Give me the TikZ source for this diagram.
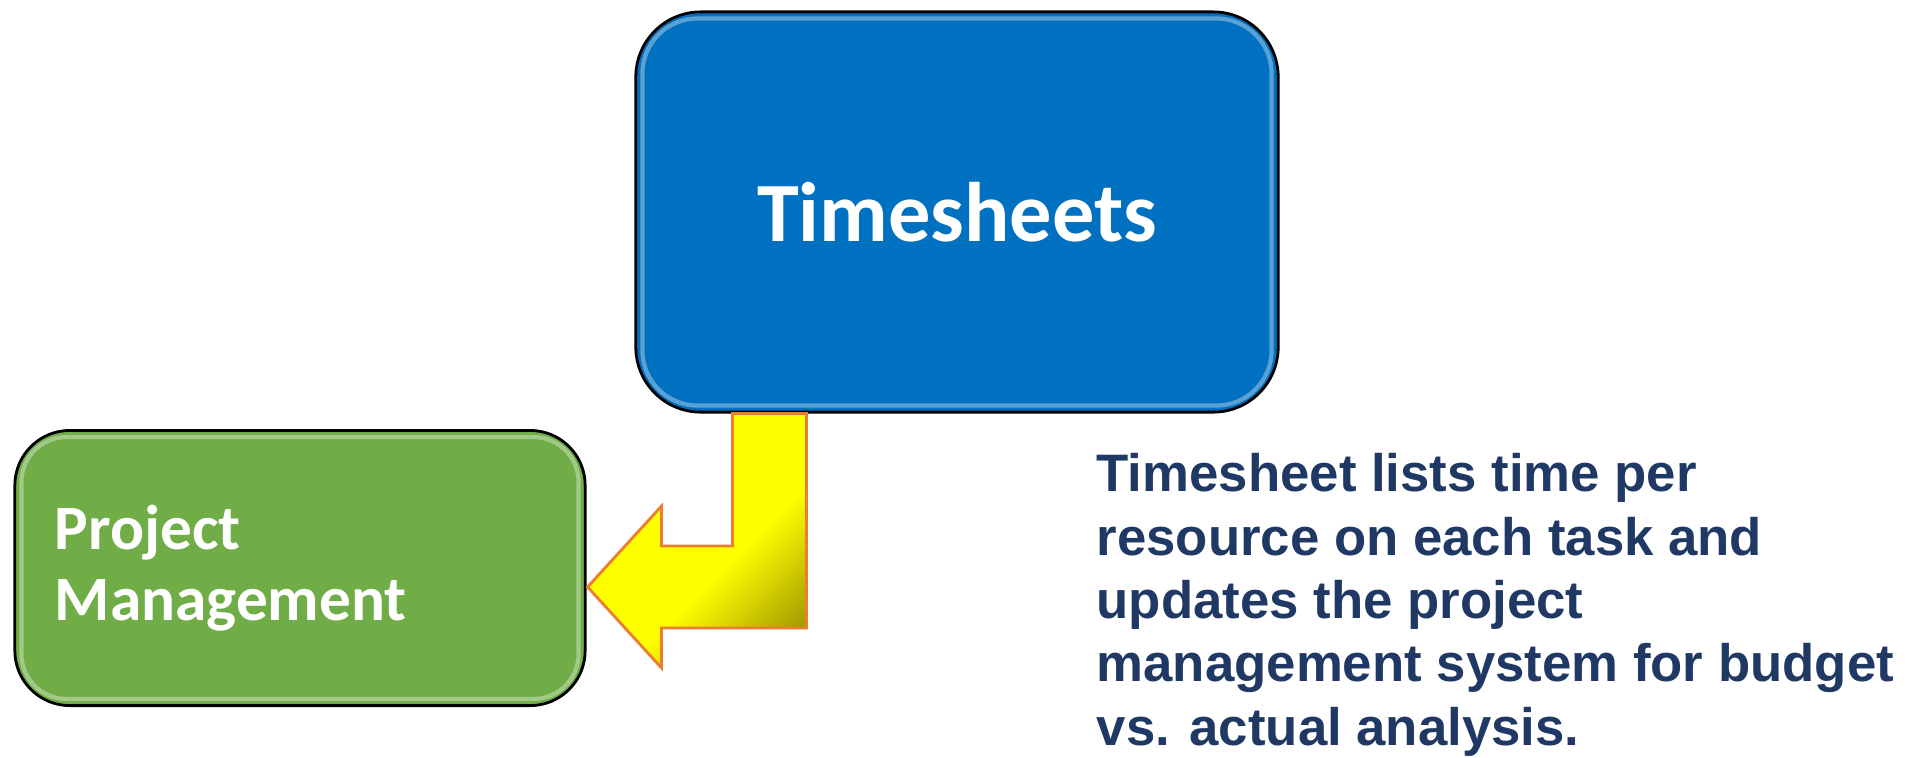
\documentclass[tikz,border=0pt]{standalone}
\usepackage{fontspec}
\newfontfamily\boxfont{Carlito}
\newfontfamily\notefont{Liberation Sans}
\usetikzlibrary{calc}
\definecolor{tsblue}{HTML}{0070C0}
\definecolor{pmgreen}{HTML}{70AD47}
\definecolor{arrowline}{HTML}{ED7D31}
\definecolor{arrowdark}{HTML}{8C8200}
\definecolor{notenavy}{HTML}{1F3864}
\pgfdeclareverticalshading{arrowshade}{100bp}{color(0bp)=(arrowdark); color(16bp)=(arrowdark); color(42bp)=(yellow); color(100bp)=(yellow)}
\begin{document}
\begin{tikzpicture}[x=0.01cm, y=-0.01cm,
    tsbox/.style = {draw, line width=0.8pt, fill=tsblue, rounded corners=0.65cm, inner sep=0pt, text=white, font=\boxfont\bfseries\fontsize{24}{28}\selectfont},
    pmbox/.style = {draw, line width=0.8pt, fill=pmgreen, rounded corners=0.55cm, inner sep=0pt, inner xsep=0.4cm, text=white, align=left, font=\boxfont\bfseries\fontsize{18}{20}\selectfont},
    gloss/.style = {draw=white, opacity=0.35, line width=1.2pt},
    bentarrow/.style = {draw=arrowline, line width=0.8pt, shading=arrowshade, shading angle=45},
    note/.style = {inner sep=0pt, align=left, text=notenavy, font=\notefont\bfseries\fontsize{15}{18}\selectfont}]
  \useasboundingbox (0,0) rectangle (1918,757);
  \node[tsbox, minimum width=6.42cm, minimum height=4cm] (ts) at (957,212) {Timesheets};
  \node[pmbox, minimum width=5.7cm, minimum height=2.75cm, text width=4.9cm] (pm) at (300,568) {Project\\Management};
  \draw[gloss, rounded corners=0.55cm] ($(ts.south west)+(8,-8)$) rectangle ($(ts.north east)+(-8,8)$);
  \draw[gloss, rounded corners=0.45cm] ($(pm.south west)+(8,-8)$) rectangle ($(pm.north east)+(-8,8)$);
  %
  \coordinate (tip) at ($(pm.east)+(1,19)$);
  \draw[bentarrow] (tip) -- ++(74,-81) -- ++(0,40) -- ++(71,0) coordinate (inner)
    -- (inner |- ts.south) -- ++(74,0) coordinate (outer)
    -- ($(outer |- tip)+(0,41)$) -- ++(-145,0) -- ++(0,40) -- cycle;
  %
  \node[note, anchor=north west] (desc) at (1096,453) {Timesheet lists time per\\resource on each task and\\updates the project\\management system for budget\\vs. actual analysis.};
\end{tikzpicture}
\end{document}
